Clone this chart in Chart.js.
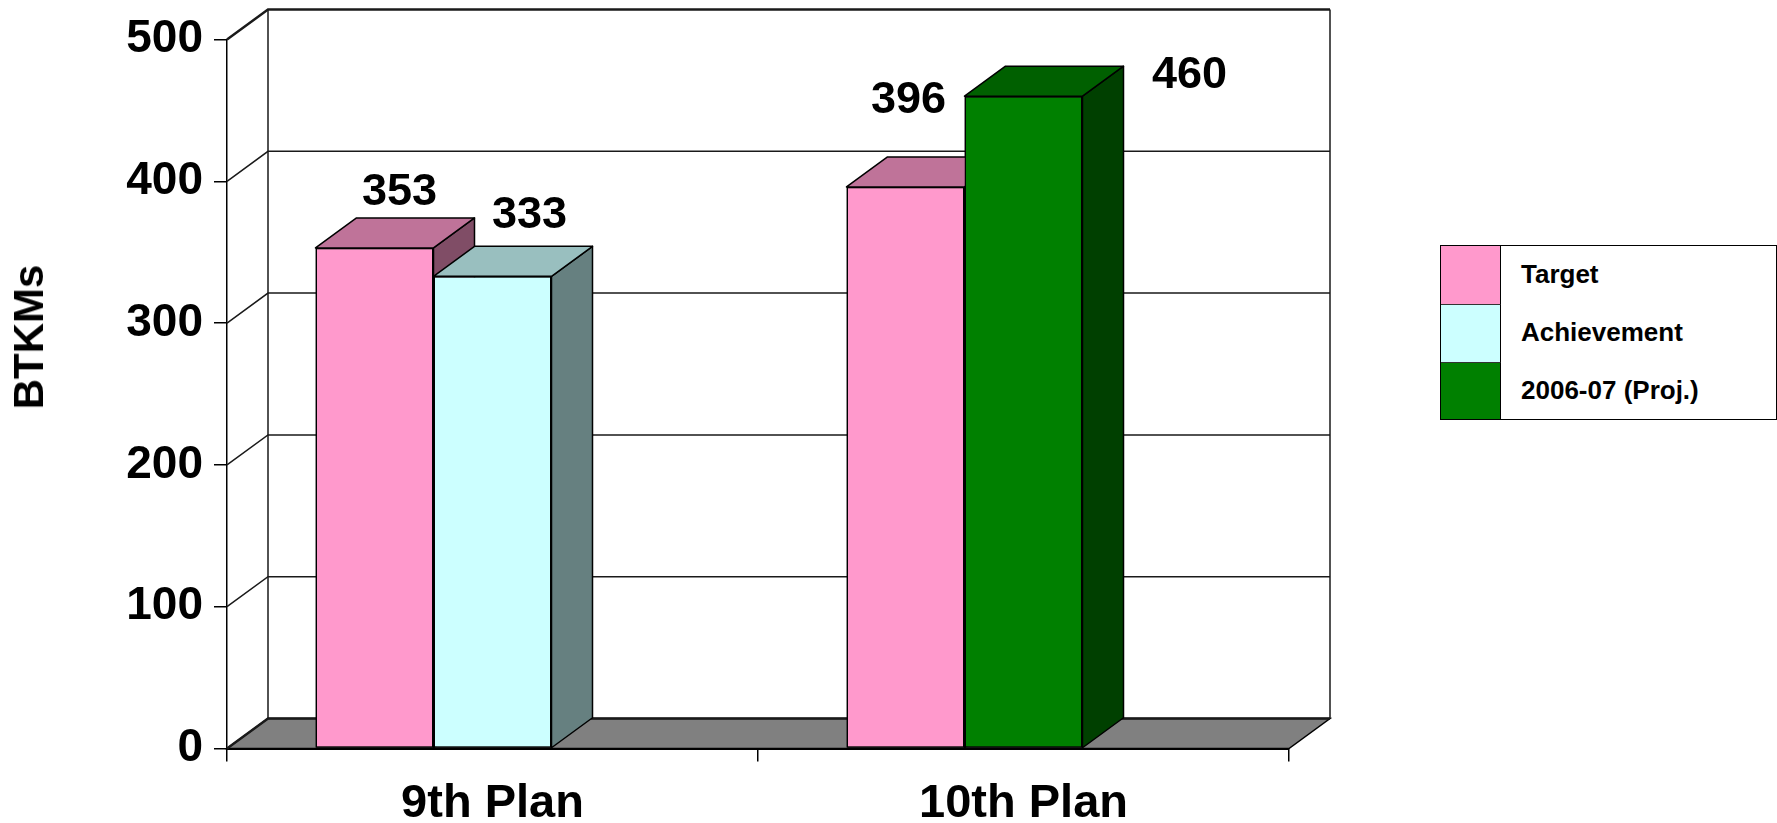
<!DOCTYPE html>
<html>
<head>
<meta charset="utf-8">
<title>BTKMs: Target vs Achievement</title>
<script src="https://cdn.jsdelivr.net/npm/chart.js@4.4.1/dist/chart.umd.min.js"></script>
<style>
  html, body { margin: 0; padding: 0; background: #fff; }
  #wrap { position: relative; width: 1777px; height: 823px; font-family: "Liberation Sans", Arial, sans-serif; }
  #axisTitle { position: absolute; left: 29px; top: 337px; transform: translate(-50%, -50%) rotate(-90deg);
               font-weight: bold; font-size: 42px; white-space: nowrap; color: #000; }
  #legend { position: absolute; left: 1440px; top: 245px; width: 337px; border: 1.5px solid #000; box-sizing: border-box; background: #fff; }
  #legend .row { display: flex; align-items: center; height: 57.8px; }
  #legend .swatch { width: 60px; height: 100%; border-right: 1.5px solid #000; box-sizing: border-box; }
  #legend .row + .row .swatch { border-top: 1px solid #333; }
  #legend .name { padding-left: 20px; font-weight: bold; font-size: 26px; color: #000; }
</style>
</head>
<body>
<div id="wrap">
  <canvas id="planChart"></canvas>
  <div id="axisTitle">BTKMs</div>
  <div id="legend"></div>
</div>
<script>
// values (billion tonne-km)
const categories = ['9th Plan', '10th Plan'];
const seriesNames = ['Target', 'Achievement', '2006-07 (Proj.)'];
const targetValues = [353, 396];
const achievementValues = [333, null];
const projectedValues = [null, 460];
const valueTicks = [0, 100, 200, 300, 400, 500];

const FONT = '"Liberation Sans", Arial, sans-serif';
const DEPTH_X = 41, DEPTH_Y = -30;   // receding edge of the 3d box and columns

const faces = [
    { front: '#FF99CC', top: '#BF7399', side: '#804D66' },
    { front: '#CCFFFF', top: '#99BFBF', side: '#668080' },
    { front: '#008000', top: '#006000', side: '#004000' }
];

// legend
const legendEl = document.getElementById('legend');
seriesNames.forEach((name, i) => {
    const row = document.createElement('div');
    row.className = 'row';
    row.innerHTML = `<div class="swatch" style="background:${faces[i].front}"></div><div class="name">${name}</div>`;
    legendEl.appendChild(row);
});

function poly(ctx, pts, fill) {
    ctx.beginPath();
    ctx.moveTo(pts[0][0], pts[0][1]);
    for (let k = 1; k < pts.length; k++) ctx.lineTo(pts[k][0], pts[k][1]);
    ctx.closePath();
    ctx.fillStyle = fill;
    ctx.fill();
    ctx.stroke();
}

// walls + floor behind the columns
const boxFrame = {
    id: 'boxFrame',
    beforeDatasetsDraw(chart) {
        const { ctx, chartArea: a, scales: { y } } = chart;
        const dx = DEPTH_X, dy = DEPTH_Y;
        ctx.save();
        ctx.strokeStyle = '#000';
        ctx.lineWidth = 1.5;
        poly(ctx, [[a.left, a.bottom], [a.left + dx, a.bottom + dy], [a.right + dx, a.bottom + dy], [a.right, a.bottom]], '#808080');

        ctx.strokeStyle = '#1a1a1a';
        valueTicks.forEach(v => {
            const py = y.getPixelForValue(v);
            ctx.lineWidth = (v === valueTicks[0] || v === valueTicks[valueTicks.length - 1]) ? 2.5 : 1.5;
            ctx.beginPath();
            ctx.moveTo(a.left, py);
            ctx.lineTo(a.left + dx, py + dy);
            ctx.lineTo(a.right + dx, py + dy);
            ctx.stroke();
        });
        ctx.lineWidth = 1.5;
        ctx.beginPath();
        ctx.moveTo(a.left + dx, a.top + dy); ctx.lineTo(a.left + dx, a.bottom + dy);
        ctx.moveTo(a.right + dx, a.top + dy); ctx.lineTo(a.right + dx, a.bottom + dy);
        ctx.stroke();
        ctx.restore();
    }
};

// top and side faces, front redrawn in depth order, then the value labels
const columnBlocks = {
    id: 'columnBlocks',
    afterDatasetsDraw(chart) {
        const { ctx } = chart;
        const dx = DEPTH_X, dy = DEPTH_Y;
        const blocks = [];
        chart.data.datasets.forEach((ds, di) => {
            if (!ds.shade) return;
            chart.getDatasetMeta(di).data.forEach((el, i) => {
                if (ds.data[i] == null) return;
                blocks.push({ el, ds, i, ...el.getProps(['x', 'y', 'base', 'width'], true) });
            });
        });
        blocks.sort((p, q) => p.x - q.x);

        ctx.save();
        ctx.lineWidth = 1.5;
        ctx.strokeStyle = '#000';
        ctx.lineJoin = 'round';
        blocks.forEach(b => {
            const l = b.x - b.width / 2, r = b.x + b.width / 2;
            poly(ctx, [[r, b.y], [r + dx, b.y + dy], [r + dx, b.base + dy], [r, b.base]], b.ds.shade.side);
            poly(ctx, [[l, b.y], [l + dx, b.y + dy], [r + dx, b.y + dy], [r, b.y]], b.ds.shade.top);
            b.el.draw(ctx);
        });

        const size = 45;
        ctx.fillStyle = '#000';
        ctx.font = `bold ${size}px ${FONT}`;
        ctx.textAlign = 'center';
        ctx.textBaseline = 'alphabetic';
        blocks.forEach(b => {
            const [sx, sy] = b.ds.labelShift[b.i];
            ctx.fillText(String(b.ds.data[b.i]), b.x + sx, b.y + sy + size * 0.358);
        });
        ctx.restore();
    }
};

new Chart(document.getElementById('planChart'), {
    type: 'bar',
    data: {
        labels: categories,
        datasets: [
            { label: seriesNames[0], data: targetValues, stack: 'target',
              backgroundColor: faces[0].front, shade: faces[0], labelShift: [[25, -59], [3, -90]] },
            { label: seriesNames[1], data: achievementValues, stack: 'actual',
              backgroundColor: faces[1].front, shade: faces[1], labelShift: [[37, -64], null] },
            { label: seriesNames[2], data: projectedValues, stack: 'actual',
              backgroundColor: faces[2].front, shade: faces[2], labelShift: [null, [166, -24]] },
            // empty third slot in each cluster
            { label: '', data: [null, null], stack: 'unused' }
        ]
    },
    options: {
        responsive: true,
        maintainAspectRatio: false,
        animation: false,
        layout: { padding: { left: 0, right: 488, top: 39.5, bottom: 0 } },
        plugins: { legend: { display: false }, tooltip: { enabled: false } },
        datasets: {
            bar: { categoryPercentage: 2 / 3, barPercentage: 1, borderWidth: 1.5, borderColor: '#000', borderSkipped: false }
        },
        scales: {
            x: {
                offset: true,
                grid: { offset: true, drawOnChartArea: false, tickLength: 13, color: '#000', lineWidth: 1.5 },
                border: { display: true, color: '#000', width: 2 },
                ticks: { color: '#000', padding: 14, maxRotation: 0, font: { family: FONT, size: 47, weight: 'bold' } },
                afterFit: s => { s.height = 74.5; }
            },
            y: {
                stacked: true,
                min: 0,
                max: 500,
                afterBuildTicks: s => { s.ticks = valueTicks.map(v => ({ value: v })); },
                grid: { drawOnChartArea: false, tickLength: 13, color: '#000', lineWidth: 1.5 },
                border: { display: true, color: '#000', width: 1.5 },
                ticks: { color: '#000', padding: 11, font: { family: FONT, size: 46, weight: 'bold' } },
                afterFit: s => { s.width = 227; }
            }
        }
    },
    plugins: [boxFrame, columnBlocks]
});
</script>
</body>
</html>
